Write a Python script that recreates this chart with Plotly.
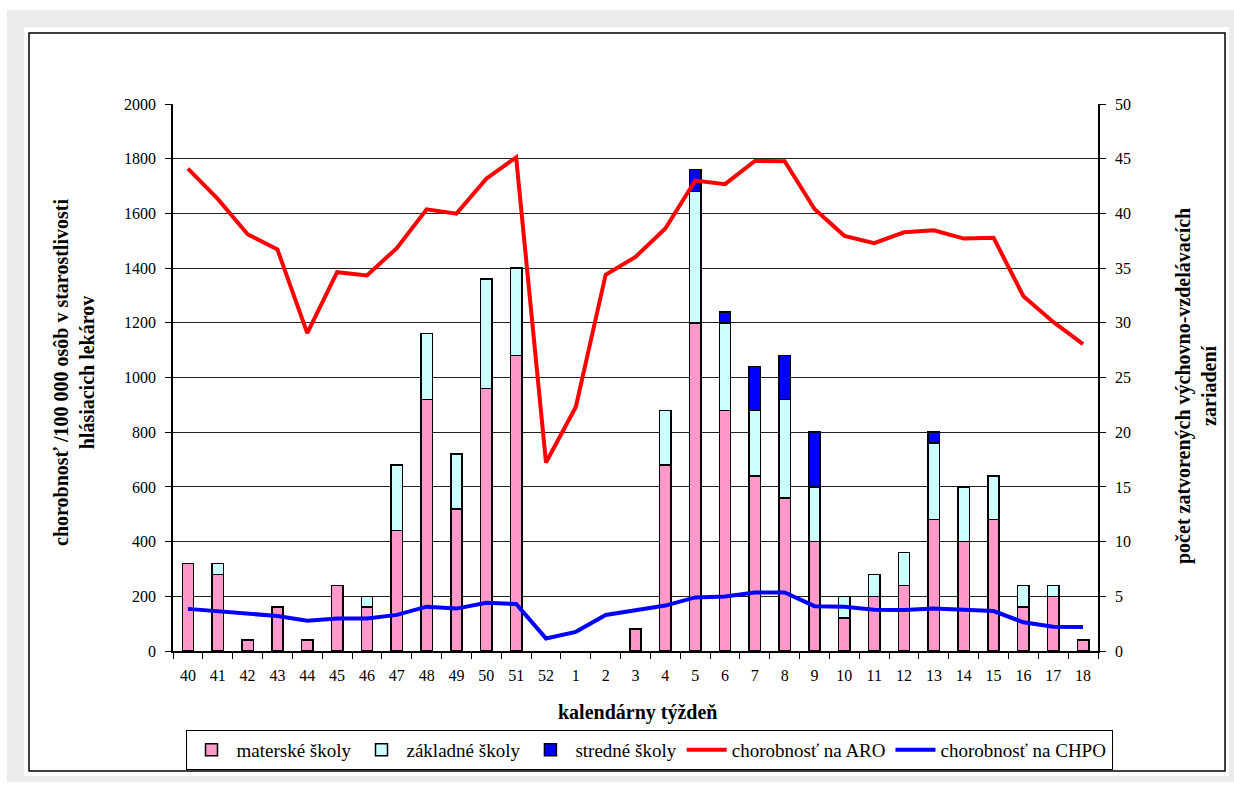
import plotly.graph_objects as go

weeks = ["40", "41", "42", "43", "44", "45", "46", "47", "48", "49", "50", "51", "52",
         "1", "2", "3", "4", "5", "6", "7", "8", "9", "10", "11", "12", "13", "14", "15",
         "16", "17", "18"]
# closed facilities (right axis)
materske = [8, 7, 1, 4, 1, 6, 4, 11, 23, 13, 24, 27, 0,
            0, 0, 2, 17, 30, 22, 16, 14, 10, 3, 5, 6, 12, 10, 12, 4, 5, 1]
zakladne = [0, 1, 0, 0, 0, 0, 1, 6, 6, 5, 10, 8, 0,
            0, 0, 0, 5, 12, 8, 6, 9, 5, 2, 2, 3, 7, 5, 4, 2, 1, 0]
stredne = [0, 0, 0, 0, 0, 0, 0, 0, 0, 0, 0, 0, 0,
           0, 0, 0, 0, 2, 1, 4, 4, 5, 0, 0, 0, 1, 0, 0, 0, 0, 0]
# morbidity (left axis)
aro = [1764, 1653, 1524, 1468, 1162, 1385, 1373, 1473, 1615, 1599, 1727, 1805, 689,
       892, 1376, 1441, 1545, 1720, 1707, 1792, 1791, 1616, 1518, 1491, 1531, 1538,
       1508, 1511, 1297, 1203, 1122]
chpo = [154, 146, 138, 128, 111, 119, 119, 132, 162, 155, 176, 172, 46,
        70, 132, 149, 166, 196, 199, 214, 214, 164, 162, 151, 150, 155, 151, 146,
        105, 89, 88]

left_ticks = list(range(0, 2001, 200))
right_ticks = list(range(0, 51, 5))

FONT = "Liberation Serif"


def nz(vals):
    return [v if v else None for v in vals]


fig = go.Figure()
bar_line = dict(color="black", width=1.5)
fig.add_trace(go.Bar(x=weeks, y=nz(materske), name="materské školy", yaxis="y",
                     marker=dict(color="#FF99CC", line=bar_line)))
fig.add_trace(go.Bar(x=weeks, y=nz(zakladne), name="základné školy", yaxis="y",
                     marker=dict(color="#CCFFFF", line=bar_line)))
fig.add_trace(go.Bar(x=weeks, y=nz(stredne), name="stredné školy", yaxis="y",
                     marker=dict(color="#0000FF", line=bar_line)))
fig.add_trace(go.Scatter(x=weeks, y=aro, name="chorobnosť na ARO", yaxis="y2",
                         mode="lines", line=dict(color="#FF0000", width=4)))
fig.add_trace(go.Scatter(x=weeks, y=chpo, name="chorobnosť na CHPO", yaxis="y2",
                         mode="lines", line=dict(color="#0000FF", width=4)))

W, H = 1234, 785
L, R, T, B = 173, 1098, 104, 651


def px(x):
    return (x - L) / (R - L)


def py(y):
    return (B - y) / (B - T)


shapes = [
    dict(type="rect", xref="paper", yref="paper", x0=px(7), x1=px(1234), y0=py(782), y1=py(10),
         fillcolor="#EBEBEB", line=dict(width=0), layer="below"),
    dict(type="rect", xref="paper", yref="paper", x0=px(24), x1=px(1229), y0=py(776), y1=py(27),
         fillcolor="white", line=dict(width=0), layer="below"),
    dict(type="rect", xref="paper", yref="paper", x0=px(29), x1=px(1225), y0=py(771), y1=py(33),
         fillcolor="rgba(0,0,0,0)", line=dict(color="black", width=1.5), layer="below"),
]

annotations = [
    dict(text="<b>chorobnosť /100 000 osôb v starostlivosti<br>hlásiacich lekárov</b>",
         xref="paper", yref="paper", x=px(74), y=py(373), textangle=-90, showarrow=False,
         font=dict(family=FONT, size=20, color="black"), xanchor="center", yanchor="middle"),
    dict(text="<b>počet zatvorených výchovno-vzdelávacích<br>zariadení</b>",
         xref="paper", yref="paper", x=px(1196), y=py(386), textangle=-90, showarrow=False,
         font=dict(family=FONT, size=20, color="black"), xanchor="center", yanchor="middle"),
    dict(text="<b>kalendárny týždeň</b>", xref="paper", yref="paper", x=px(637), y=py(712),
         showarrow=False, font=dict(family=FONT, size=20, color="black"),
         xanchor="center", yanchor="middle"),
]

fig.update_layout(
    width=W, height=H,
    margin=dict(l=L, r=W - R, t=T, b=H - B, autoexpand=False),
    paper_bgcolor="white", plot_bgcolor="rgba(0,0,0,0)",
    barmode="stack", bargap=0.62,
    font=dict(family=FONT, size=16, color="black"),
    showlegend=True,
    legend=dict(orientation="h", x=px(649), y=py(750), xanchor="center", yanchor="middle",
                bordercolor="black", borderwidth=1, bgcolor="white",
                font=dict(family=FONT, size=19, color="black"),
                traceorder="normal", itemwidth=40, tracegroupgap=0),
    xaxis=dict(type="category", categoryorder="array", categoryarray=weeks,
               range=[-0.5, len(weeks) - 0.5],
               showline=True, linecolor="black", linewidth=1.5, mirror=False,
               ticks="outside", tickson="boundaries", ticklen=6, tickcolor="black",
               ticklabelstandoff=9,
               showgrid=False, tickfont=dict(family=FONT, size=16, color="black")),
    yaxis=dict(side="right", range=[0, 50], tickvals=right_ticks, ticks="outside",
               ticklen=6, tickcolor="black", showline=True, linecolor="black", linewidth=1.5,
               ticklabelstandoff=6,
               showgrid=True, gridcolor="#222222", gridwidth=1, zeroline=False,
               tickfont=dict(family=FONT, size=16, color="black")),
    yaxis2=dict(side="left", overlaying="y", range=[0, 2000], tickvals=left_ticks,
                ticks="outside", ticklen=6, tickcolor="black", showline=True,
                linecolor="black", linewidth=1.5, showgrid=False, zeroline=False,
                ticklabelstandoff=6,
                tickfont=dict(family=FONT, size=16, color="black")),
    shapes=shapes,
    annotations=annotations,
)

fig.write_html("out.html", config={"displayModeBar": False},
               post_script="document.body.style.margin='0';document.body.style.padding='0';"
                           "document.body.style.overflow='hidden';")
